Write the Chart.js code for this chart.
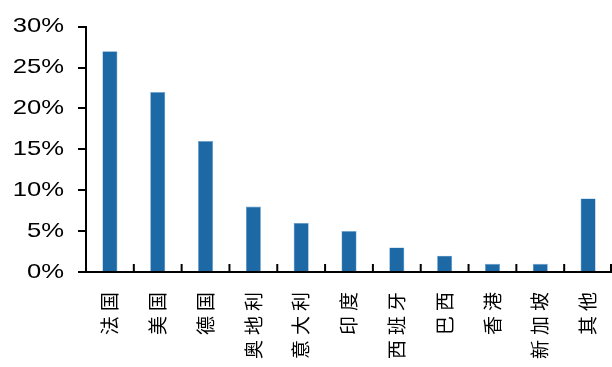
<!DOCTYPE html>
<html>
<head>
<meta charset="utf-8">
<script src="https://cdn.jsdelivr.net/npm/chart.js@4/dist/chart.umd.min.js"></script>
<style>
  html, body { margin: 0; padding: 0; background: #fff; }
</style>
</head>
<body>
<canvas id="chart" width="612" height="367"></canvas>
<script>
const categories = ['法国', '美国', '德国', '奥地利', '意大利', '印度', '西班牙', '巴西', '香港', '新加坡', '其他'];
const shares = [27, 22, 16, 8, 6, 5, 3, 2, 1, 1, 9];
const yTicks = [0, 5, 10, 15, 20, 25, 30];

// small tick marks on the x axis, pointing up, at category boundaries
const innerTicks = {
  id: 'innerTicks',
  afterDraw(chart) {
    const x = chart.scales.x, ctx = chart.ctx;
    const base = chart.scales.y.getPixelForValue(0);
    const step = x.getPixelForValue(1) - x.getPixelForValue(0);
    ctx.save();
    ctx.strokeStyle = '#000';
    ctx.lineWidth = 2;
    for (let i = 0; i < categories.length; i++) {
      const edge = Math.min(x.getPixelForValue(i) + step / 2, chart.width - 1);
      ctx.beginPath();
      ctx.moveTo(edge, base);
      ctx.lineTo(edge, base - 8);
      ctx.stroke();
    }
    ctx.restore();
  }
};

// the original uses spaced chinese labels and a wide latin face for the percents
const labelTweaks = {
  id: 'labelTweaks',
  afterLayout(chart) {
    const sx = chart.scales.x, sy = chart.scales.y, ctx = chart.ctx;
    if (sx._tweaked) return;
    sx._tweaked = true;
    const drawX = sx.drawLabels.bind(sx);
    sx.drawLabels = function (area) {
      ctx.save();
      ctx.letterSpacing = '5px';
      drawX(area);
      ctx.restore();
    };
    const drawY = sy.drawLabels.bind(sy);
    sy.drawLabels = function (area) {
      const edge = sy.right - 8 - 14;
      ctx.save();
      ctx.translate(edge, 0);
      ctx.scale(1.22, 1);
      ctx.translate(-edge, 0);
      drawY(area);
      ctx.restore();
    };
  }
};

new Chart(document.getElementById('chart'), {
  type: 'bar',
  data: {
    labels: categories,
    datasets: [{
      data: shares,
      backgroundColor: '#1c69a6',
      borderColor: '#6a9fcb',
      borderWidth: 0.6,
      barPercentage: 0.63,
      categoryPercentage: 0.5
    }]
  },
  options: {
    responsive: false,
    animation: false,
    layout: { padding: { top: 24, right: 0, left: 0, bottom: 0 } },
    plugins: { legend: { display: false }, tooltip: { enabled: false } },
    scales: {
      x: {
        offset: true,
        grid: { display: false, drawTicks: false },
        border: { display: true, color: '#000', width: 2 },
        afterFit: s => { s.height = 95; s.paddingLeft = 0; s.paddingRight = 0; },
        ticks: {
          maxRotation: 90, minRotation: 90, autoSkip: false, padding: 15,
          color: '#000',
          font: { family: '"Noto Sans CJK SC"', size: 19 }
        }
      },
      y: {
        min: 0, max: 30,
        afterBuildTicks: s => { s.ticks = yTicks.map(v => ({ value: v })); },
        afterFit: s => { s.width = 86; },
        grid: { drawOnChartArea: false, drawTicks: true, tickLength: 8, color: '#000', lineWidth: 2 },
        border: { display: true, color: '#000', width: 2 },
        ticks: {
          padding: 14, color: '#000',
          font: { family: '"Liberation Sans", Arial', size: 21 },
          callback: v => v + '%'
        }
      }
    }
  },
  plugins: [innerTicks, labelTweaks]
});
</script>
</body>
</html>
